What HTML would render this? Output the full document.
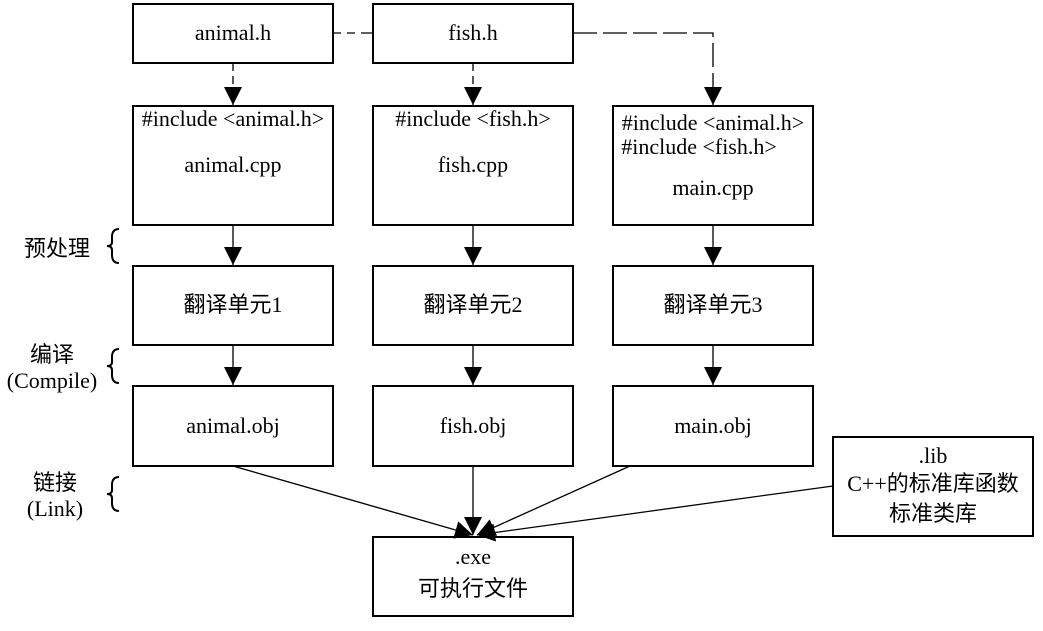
<!DOCTYPE html>
<html><head><meta charset="utf-8"><style>
body{margin:0;background:#fff;}
svg text{font-family:"Liberation Serif","Noto Sans CJK SC",serif;font-size:22px;fill:#000;}
</style></head><body>
<svg width="1043" height="626" xmlns="http://www.w3.org/2000/svg">
<defs><marker id="a" markerWidth="20" markerHeight="20" refX="18" refY="9" orient="auto" markerUnits="userSpaceOnUse"><path d="M0,0 L18,9 L0,18 z" fill="#000"/></marker></defs>
<g fill="none" stroke="#000" stroke-width="2">
<rect x="133" y="4" width="200" height="59"/>
<rect x="373" y="4" width="200" height="59"/>
<rect x="133" y="106" width="200" height="119"/>
<rect x="373" y="106" width="200" height="119"/>
<rect x="613" y="106" width="200" height="119"/>
<rect x="133" y="266" width="200" height="79"/>
<rect x="373" y="266" width="200" height="79"/>
<rect x="613" y="266" width="200" height="79"/>
<rect x="133" y="386" width="200" height="80"/>
<rect x="373" y="386" width="200" height="80"/>
<rect x="613" y="386" width="200" height="80"/>
<rect x="373" y="537" width="200" height="79"/>
<rect x="833" y="437" width="200" height="99"/>
</g>
<g stroke="#000" stroke-width="1.3" fill="none">
<line x1="333" y1="33" x2="373" y2="33" stroke-dasharray="8,6,8,6,12"/>
<line x1="233" y1="63" x2="233" y2="105" stroke-dasharray="8,5" marker-end="url(#a)"/>
<line x1="473" y1="63" x2="473" y2="105" stroke-dasharray="8,5" marker-end="url(#a)"/>
<polyline points="573,33 713,33 713,105" stroke-dasharray="24,6" marker-end="url(#a)"/>
<line x1="233" y1="225" x2="233" y2="265" marker-end="url(#a)"/>
<line x1="473" y1="225" x2="473" y2="265" marker-end="url(#a)"/>
<line x1="713" y1="225" x2="713" y2="265" marker-end="url(#a)"/>
<line x1="233" y1="345" x2="233" y2="385" marker-end="url(#a)"/>
<line x1="473" y1="345" x2="473" y2="385" marker-end="url(#a)"/>
<line x1="713" y1="345" x2="713" y2="385" marker-end="url(#a)"/>
<line x1="233" y1="466" x2="473" y2="535" marker-end="url(#a)"/>
<line x1="473" y1="466" x2="473" y2="535" marker-end="url(#a)"/>
<line x1="630" y1="466" x2="477" y2="535" marker-end="url(#a)"/>
<line x1="833" y1="486" x2="477" y2="535" marker-end="url(#a)"/>
</g>
<g stroke="#000" stroke-width="2" fill="none">
<path d="M119,229 Q112,229 112,237 L112,242 Q112,246 107,246 Q112,246 112,250 L112,255 Q112,263 119,263"/>
<path d="M119,349 Q112,349 112,357 L112,362 Q112,366 107,366 Q112,366 112,370 L112,375 Q112,383 119,383"/>
<path d="M119,477 Q112,477 112,485 L112,490 Q112,494 107,494 Q112,494 112,498 L112,503 Q112,511 119,511"/>
</g>
<g text-anchor="middle">
<text x="233" y="40">animal.h</text>
<text x="473" y="40">fish.h</text>
<text x="233" y="126">#include &lt;animal.h&gt;</text>
<text x="233" y="172">animal.cpp</text>
<text x="473" y="126">#include &lt;fish.h&gt;</text>
<text x="473" y="172">fish.cpp</text>
<text x="713" y="130">#include &lt;animal.h&gt;</text>
<text x="699" y="154">#include &lt;fish.h&gt;</text>
<text x="713" y="195">main.cpp</text>
<text x="233" y="312">翻译单元1</text>
<text x="473" y="312">翻译单元2</text>
<text x="713" y="312">翻译单元3</text>
<text x="233" y="433">animal.obj</text>
<text x="473" y="433">fish.obj</text>
<text x="713" y="433">main.obj</text>
<text x="473" y="564">.exe</text>
<text x="473" y="596">可执行文件</text>
<text x="933" y="463">.lib</text>
<text x="933" y="491">C++的标准库函数</text>
<text x="933" y="521">标准类库</text>
<text x="57" y="256">预处理</text>
<text x="52" y="362">编译</text>
<text x="52" y="388">(Compile)</text>
<text x="55" y="490">链接</text>
<text x="55" y="516">(Link)</text>
</g>
</svg>
</body></html>
